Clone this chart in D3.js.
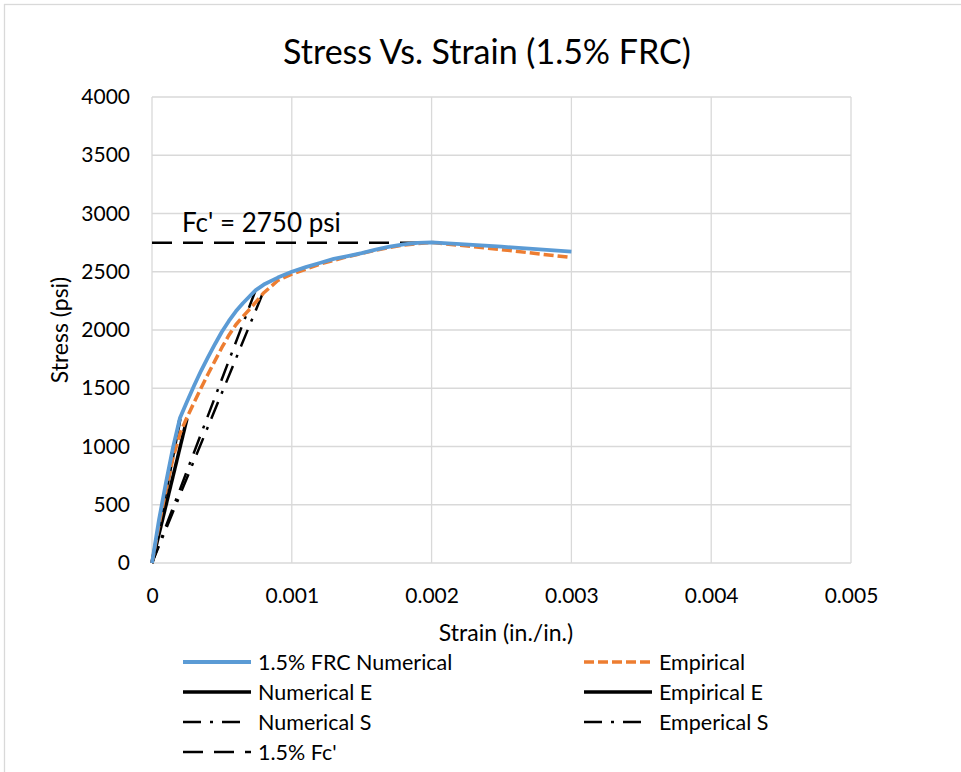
<!DOCTYPE html>
<html>
<head>
<meta charset="utf-8">
<script src="https://cdn.jsdelivr.net/npm/d3@7"></script>
<style>
  html, body { margin: 0; padding: 0; background: #fff; }
  svg { display: block; font-family: Lato, "Open Sans", sans-serif; }
</style>
</head>
<body>
<svg id="chart" width="961" height="772"></svg>
<script>
// Stress-strain data for the 1.5% fibre reinforced concrete mix
const strainNumerical = [0, 0.00005, 0.0001, 0.00015, 0.0002, 0.00025, 0.0003, 0.00035, 0.0004, 0.00045, 0.0005, 0.00055, 0.0006, 0.00065, 0.0007, 0.00074, 0.0008, 0.0009, 0.001, 0.0011, 0.0012, 0.0013, 0.0014, 0.0015, 0.0016, 0.0017, 0.0018, 0.0019, 0.002, 0.0025, 0.003];
const stressNumerical = [0, 370, 690, 990, 1245, 1385, 1520, 1648, 1765, 1878, 1985, 2078, 2160, 2230, 2292, 2340, 2390, 2450, 2500, 2540, 2575, 2610, 2635, 2660, 2690, 2715, 2735, 2748, 2752, 2715, 2672];

const strainEmpirical = [0, 0.00005, 0.0001, 0.00015, 0.0002, 0.00025, 0.0003, 0.00035, 0.0004, 0.00045, 0.0005, 0.00055, 0.0006, 0.00065, 0.0007, 0.00075, 0.0008, 0.0009, 0.001, 0.0012, 0.0014, 0.0016, 0.0018, 0.002, 0.0025, 0.003];
const stressEmpirical = [0, 330, 630, 900, 1110, 1250, 1375, 1500, 1620, 1735, 1850, 1955, 2045, 2115, 2180, 2250, 2320, 2425, 2480, 2565, 2630, 2685, 2730, 2752, 2690, 2622];

// Modulus lines (to 0.45 fc') and secant lines (to 0.85 fc')
const strainNumericalE = [0, 0.0002];
const stressNumericalE = [0, 1237.5];
const strainEmpiricalE = [0, 0.00025];
const stressEmpiricalE = [0, 1237.5];
const strainNumericalS = [0, 0.00074];
const stressNumericalS = [0, 2337.5];
const strainEmpiricalS = [0, 0.0008];
const stressEmpiricalS = [0, 2337.5];

// Compressive strength reference line
const strainFc = [0, 0.002];
const stressFc = [2750, 2750];

const xTickValues = [0, 0.001, 0.002, 0.003, 0.004, 0.005];
const xTickLabels = ["0", "0.001", "0.002", "0.003", "0.004", "0.005"];
const yTickValues = [0, 500, 1000, 1500, 2000, 2500, 3000, 3500, 4000];
const yTickLabels = ["0", "500", "1000", "1500", "2000", "2500", "3000", "3500", "4000"];

const svg = d3.select("#chart");
const plot = { left: 152, right: 851, top: 97, bottom: 563 };

const x = d3.scaleLinear().domain([0, 0.005]).range([plot.left, plot.right]);
const y = d3.scaleLinear().domain([0, 4000]).range([plot.bottom, plot.top]);

// chart frame
svg.append("rect")
  .attr("x", 4.5).attr("y", 4.5)
  .attr("width", 1000).attr("height", 1000)
  .attr("fill", "#fff").attr("stroke", "#d9d9d9").attr("stroke-width", 1.3);

// title
svg.append("text")
  .attr("x", 487).attr("y", 64)
  .attr("text-anchor", "middle")
  .attr("font-size", 34).attr("fill", "#000")
  .text("Stress Vs. Strain (1.5% FRC)");

// gridlines
const grid = svg.append("g");
grid.selectAll("line.h").data(yTickValues).join("line")
  .attr("x1", plot.left).attr("x2", plot.right)
  .attr("y1", d => y(d)).attr("y2", d => y(d))
  .attr("stroke", "#d9d9d9").attr("stroke-width", 1.3);
grid.selectAll("line.v").data(xTickValues).join("line")
  .attr("x1", d => x(d)).attr("x2", d => x(d))
  .attr("y1", plot.top).attr("y2", plot.bottom)
  .attr("stroke", "#d9d9d9").attr("stroke-width", 1.3);

// axes (labels only; lines are the gridlines)
const xAxis = d3.axisBottom(x).tickValues(xTickValues)
  .tickFormat((d, i) => xTickLabels[i]).tickSize(0).tickPadding(25);
const gx = svg.append("g").attr("transform", `translate(0,${plot.bottom})`).call(xAxis);
gx.select(".domain").remove();
gx.selectAll("text").attr("font-size", 21).attr("fill", "#000").attr("font-family", "Lato, sans-serif");

const yAxis = d3.axisLeft(y).tickValues(yTickValues)
  .tickFormat((d, i) => yTickLabels[i]).tickSize(0).tickPadding(22);
const gy = svg.append("g").attr("transform", `translate(${plot.left},0)`).call(yAxis);
gy.select(".domain").remove();
gy.selectAll("text").attr("font-size", 21).attr("fill", "#000").attr("font-family", "Lato, sans-serif");

// axis titles
svg.append("text")
  .attr("x", 506).attr("y", 641)
  .attr("text-anchor", "middle").attr("font-size", 23).attr("fill", "#000")
  .text("Strain (in./in.)");
svg.append("text")
  .attr("transform", "translate(68,330) rotate(-90)")
  .attr("text-anchor", "middle").attr("font-size", 23).attr("fill", "#000")
  .text("Stress (psi)");

const line = d3.line().x(d => x(d[0])).y(d => y(d[1]));
const zipPts = (xs, ys) => xs.map((v, i) => [v, ys[i]]);

const series = [
  { name: "1.5% FRC Numerical", xs: strainNumerical, ys: stressNumerical, color: "#5b9bd5", width: 3.8, dash: null, len: 68 },
  { name: "Empirical", xs: strainEmpirical, ys: stressEmpirical, color: "#ed7d31", width: 3.5, dash: "10,4", len: 68 },
  { name: "Numerical E", xs: strainNumericalE, ys: stressNumericalE, color: "#000", width: 3.5, dash: null, len: 68 },
  { name: "Empirical E", xs: strainEmpiricalE, ys: stressEmpiricalE, color: "#000", width: 3.5, dash: null, len: 68 },
  { name: "Numerical S", xs: strainNumericalS, ys: stressNumericalS, color: "#000", width: 2.5, dash: "18,9,3,9", len: 58 },
  { name: "Emperical S", xs: strainEmpiricalS, ys: stressEmpiricalS, color: "#000", width: 2.5, dash: "18,9,3,9", len: 58 },
  { name: "1.5% Fc'", xs: strainFc, ys: stressFc, color: "#000", width: 2.5, dash: "20,11", len: 68 }
];

const lines = svg.append("g").attr("fill", "none").attr("stroke-linejoin", "round");
series.slice().reverse().forEach(s => {
  lines.append("path")
    .datum(zipPts(s.xs, s.ys))
    .attr("d", line)
    .attr("stroke", s.color)
    .attr("stroke-width", s.width)
    .attr("stroke-dasharray", s.dash);
});

// annotation
svg.append("text")
  .attr("x", 182).attr("y", 232)
  .attr("font-size", 26).attr("fill", "#000")
  .text("Fc' = 2750 psi");

// legend
const legendSlots = [
  [183, 662], [584, 662],
  [183, 692], [584, 692],
  [183, 722], [584, 722],
  [183, 752]
];
const legend = svg.append("g");
series.forEach((s, i) => {
  const [lx, ly] = legendSlots[i];
  legend.append("line")
    .attr("x1", lx).attr("x2", lx + s.len)
    .attr("y1", ly).attr("y2", ly)
    .attr("stroke", s.color).attr("stroke-width", s.width)
    .attr("stroke-dasharray", s.dash);
  legend.append("text")
    .attr("x", lx + 75).attr("y", ly + 7.5)
    .attr("font-size", 21.5).attr("fill", "#000")
    .text(s.name);
});
</script>
</body>
</html>
